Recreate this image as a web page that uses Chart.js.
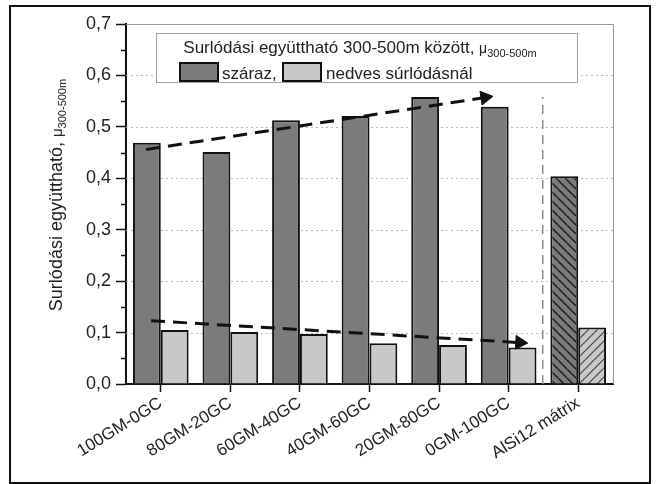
<!DOCTYPE html>
<html><head><meta charset="utf-8">
<script src="https://cdn.jsdelivr.net/npm/chart.js@4/dist/chart.umd.min.js"></script>
<style>html,body{margin:0;padding:0;background:#fff}#wrap{width:656px;height:484px}</style>
</head><body><div id="wrap"><canvas id="c" width="656" height="484"></canvas></div>
<script>
const categories = ['100GM-0GC','80GM-20GC','60GM-40GC','40GM-60GC','20GM-80GC','0GM-100GC','AlSi12 mátrix'];
const dryValues = [0.469, 0.451, 0.513, 0.521, 0.558, 0.539, 0.404];
const wetValues = [0.105, 0.101, 0.097, 0.079, 0.076, 0.071, 0.110];
const dryLabel = 'száraz,';
const wetLabel = 'nedves súrlódásnál';
const dryTrend = [{x: -0.21, y: 0.456}, {x: 4.66, y: 0.557}];
const wetTrend = [{x: -0.14, y: 0.123}, {x: 5.16, y: 0.0805}];
const separatorLine = [{x: 5.49, y: 0}, {x: 5.49, y: 0.558}];
const yMin = 0, yMax = 0.7, yStep = 0.1;
const legendTitle = 'Surlódási együttható 300-500m között, ';
const yTitle = 'Surlódási együttható, ';
const muText = 'μ';
const muSub = '300-500m';

const FONT = '"Liberation Sans", Arial, sans-serif';
const DRY = '#7b7b7b', WET = '#c8c8c8';

function hatch(base, color, dir, size, lw) {
  const c = document.createElement('canvas');
  c.width = size; c.height = size;
  const g = c.getContext('2d');
  g.fillStyle = base; g.fillRect(0, 0, size, size);
  g.strokeStyle = color; g.lineWidth = lw;
  for (const k of [-size, 0, size]) {
    g.beginPath();
    if (dir === '\\') { g.moveTo(k, 0); g.lineTo(k + size, size); }
    else { g.moveTo(k + size, 0); g.lineTo(k, size); }
    g.stroke();
  }
  return document.getElementById('c').getContext('2d').createPattern(c, 'repeat');
}
const dryHatch = hatch(DRY, '#1a1a1a', '\\', 9, 1.4);
const wetHatch = hatch(WET, '#444', '/', 9, 1.2);
const dryColors = categories.map((c, i) => i === categories.length - 1 ? dryHatch : DRY);
const wetColors = categories.map((c, i) => i === categories.length - 1 ? wetHatch : WET);

function drawSub(ctx, x, y, main, mainFont, mu, muFont, sub, subFont, measureOnly) {
  ctx.font = mainFont; const w1 = ctx.measureText(main).width;
  ctx.font = muFont; const w2 = ctx.measureText(mu).width;
  ctx.font = subFont; const w3 = ctx.measureText(sub).width;
  if (measureOnly) return w1 + w2 + w3;
  ctx.font = mainFont; ctx.fillText(main, x, y);
  ctx.font = muFont; ctx.fillText(mu, x + w1, y);
  ctx.font = subFont; ctx.fillText(sub, x + w1 + w2, y + 4);
  return w1 + w2 + w3;
}

const decor = {
  id: 'decor',
  beforeDraw(chart) {
    const ctx = chart.ctx;
    ctx.save();
    ctx.fillStyle = '#fff'; ctx.fillRect(0, 0, chart.width, chart.height);
    ctx.strokeStyle = '#111'; ctx.lineWidth = 2;
    ctx.strokeRect(10, 6, 640, 477);
    ctx.restore();
  },
  beforeDatasetsDraw(chart) {
    const ctx = chart.ctx, a = chart.chartArea, ys = chart.scales.y;
    ctx.save();
    ctx.strokeStyle = '#b8b8b8'; ctx.lineWidth = 1; ctx.setLineDash([2, 3]);
    for (let v = yStep; v < yMax - 1e-9; v += yStep) {
      const y = Math.round(ys.getPixelForValue(v)) + 0.5;
      ctx.beginPath(); ctx.moveTo(a.left, y); ctx.lineTo(a.right, y); ctx.stroke();
    }
    ctx.setLineDash([]);
    ctx.strokeStyle = '#999';
    ctx.beginPath();
    ctx.moveTo(a.left, a.top + 0.5); ctx.lineTo(a.right + 0.5, a.top + 0.5); ctx.lineTo(a.right + 0.5, a.bottom);
    ctx.stroke();
    ctx.restore();
  },
  afterDraw(chart) {
    const ctx = chart.ctx, a = chart.chartArea, ys = chart.scales.y;
    ctx.save();
    ctx.strokeStyle = '#111'; ctx.lineWidth = 1.5;
    for (let v = yStep / 2; v < yMax; v += yStep) {
      const y = Math.round(ys.getPixelForValue(v)) + 0.5;
      ctx.beginPath(); ctx.moveTo(a.left - 5, y); ctx.lineTo(a.left, y); ctx.stroke();
    }
    // legend
    ctx.fillStyle = '#fff'; ctx.fillRect(156, 33, 422, 50);
    ctx.strokeStyle = '#a0a0a0'; ctx.lineWidth = 1;
    ctx.strokeRect(156.5, 33.5, 421, 49);
    ctx.fillStyle = '#222'; ctx.textBaseline = 'alphabetic'; ctx.textAlign = 'left';
    const tf = '17px ' + FONT, mf = '14px ' + FONT, sf = '11px ' + FONT;
    const tw = drawSub(ctx, 0, 0, legendTitle, tf, muText, mf, muSub, sf, true);
    drawSub(ctx, 360 - tw / 2, 53, legendTitle, tf, muText, mf, muSub, sf, false);
    const ds = chart.data.datasets;
    ctx.lineWidth = 2; ctx.strokeStyle = '#111';
    ctx.fillStyle = DRY; ctx.fillRect(180, 63, 38, 18); ctx.strokeRect(180, 63, 38, 18);
    ctx.fillStyle = WET; ctx.fillRect(283, 63, 38, 18); ctx.strokeRect(283, 63, 38, 18);
    ctx.fillStyle = '#222'; ctx.font = '17px ' + FONT;
    ctx.fillText(ds[0].label, 222, 79);
    ctx.fillText(ds[1].label, 326, 79);
    // y title
    ctx.save();
    ctx.translate(62, 195); ctx.rotate(-Math.PI / 2);
    const yf = '18px ' + FONT, ymf = '15px ' + FONT, ysf = '11px ' + FONT;
    const yw = drawSub(ctx, 0, 0, yTitle, yf, muText, ymf, muSub, ysf, true);
    drawSub(ctx, -yw / 2, 0, yTitle, yf, muText, ymf, muSub, ysf, false);
    ctx.restore();
    ctx.restore();
  }
};

const lineBase = { type: 'line', parsing: false, fill: false, order: -1, borderColor: '#111', pointBackgroundColor: '#111', pointBorderColor: '#111', pointBorderWidth: 1 };

new Chart(document.getElementById('c'), {
  type: 'bar',
  data: {
    labels: categories,
    datasets: [
      { label: dryLabel, data: dryValues, backgroundColor: dryColors, borderColor: '#111', borderWidth: 2, borderSkipped: 'bottom', barPercentage: 1, categoryPercentage: 0.8 },
      { label: wetLabel, data: wetValues, backgroundColor: wetColors, borderColor: '#111', borderWidth: 2, borderSkipped: 'bottom', barPercentage: 1, categoryPercentage: 0.8 },
      Object.assign({}, lineBase, { label: 'trend1', data: dryTrend, borderWidth: 3, borderDash: [14, 8], pointRadius: [0, 8], pointStyle: 'triangle', rotation: [0, 81.5] }),
      Object.assign({}, lineBase, { label: 'trend2', data: wetTrend, borderWidth: 3, borderDash: [14, 8], pointRadius: [0, 8], pointStyle: 'triangle', rotation: [0, 93.3] }),
      Object.assign({}, lineBase, { label: 'sep', data: separatorLine, borderColor: '#8a8a8a', borderWidth: 1.5, borderDash: [9, 6], pointRadius: 0 })
    ]
  },
  options: {
    responsive: false, animation: false, devicePixelRatio: 1,
    layout: { padding: { left: 0, top: 24, right: 43, bottom: 0 } },
    plugins: { legend: { display: false }, tooltip: { enabled: false } },
    scales: {
      x: {
        type: 'category', offset: true,
        grid: { offset: false, drawOnChartArea: false, drawTicks: true, tickLength: 8, tickColor: '#111', tickWidth: 1.5 },
        border: { color: '#111', width: 2 },
        ticks: { minRotation: 32, maxRotation: 32, padding: 1, color: '#222', font: { family: FONT, size: 17 }, autoSkip: false },
        afterFit(s) { s.height = 100; }
      },
      y: {
        min: yMin, max: yMax,
        grid: { drawOnChartArea: false, drawTicks: true, tickLength: 10, tickColor: '#111', tickWidth: 1.5 },
        border: { color: '#111', width: 2 },
        ticks: { stepSize: yStep, padding: 5, color: '#222', font: { family: FONT, size: 18 },
          callback: v => v.toFixed(1).replace('.', ',') },
        afterFit(s) { s.width = 126; }
      }
    }
  },
  plugins: [decor]
});
</script></body></html>
